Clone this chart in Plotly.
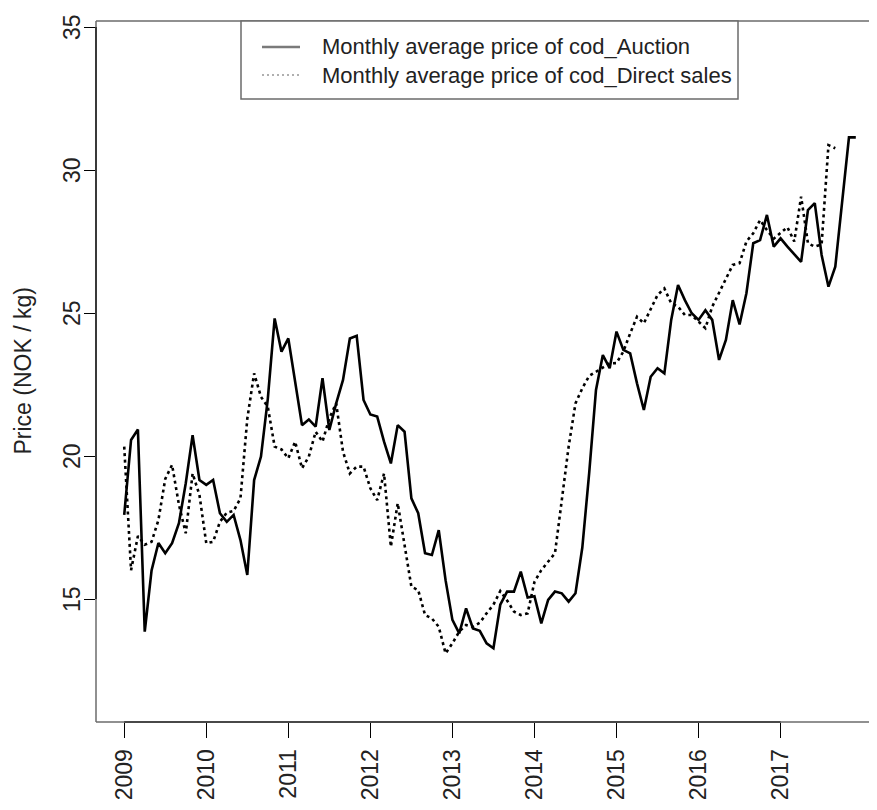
import plotly.graph_objects as go

# monthly average price of cod, NOK/kg, Jan 2009 onwards
auction = [
    17.94, 20.56, 20.93, 13.86, 16.0, 16.96, 16.6, 16.95, 17.65, 19.05, 20.73, 19.16,
    18.99, 19.16, 18.0, 17.7, 17.94, 17.06, 15.84, 19.16, 19.98, 22.0, 24.81, 23.65,
    24.11, 22.66, 21.08, 21.28, 21.03, 22.72, 20.91, 21.84, 22.66, 24.11, 24.2, 21.96,
    21.45, 21.38, 20.5, 19.74, 21.08, 20.85, 18.52, 18.0, 16.6, 16.54, 17.41, 15.66,
    14.27, 13.8, 14.67, 13.97, 13.89, 13.45, 13.28, 14.8, 15.26, 15.26, 15.96, 15.05,
    15.1, 14.15, 14.97, 15.26, 15.2, 14.91, 15.2, 16.8, 19.39, 22.31, 23.53, 23.07,
    24.35, 23.71, 23.59, 22.54, 21.61, 22.77, 23.07, 22.89, 24.76, 25.98, 25.45, 24.99,
    24.76, 25.1, 24.76, 23.36, 24.06, 25.45, 24.6, 25.69, 27.44, 27.55, 28.43, 27.32,
    27.61, 27.32, 27.06, 26.79, 28.6, 28.84, 27.03, 25.92, 26.62, 28.95, 31.14, 31.14,
]
direct = [
    20.33, 16.01, 17.2, 16.9, 17.0, 17.76, 19.2, 19.69, 18.3, 17.3, 19.39, 18.64,
    16.95, 17.0, 17.7, 18.02, 18.08, 18.52, 21.3, 22.89, 22.07, 21.72, 20.33, 20.23,
    19.92, 20.5, 19.57, 19.98, 20.85, 20.5, 21.32, 21.84, 20.15, 19.39, 19.63, 19.63,
    18.87, 18.46, 19.39, 16.83, 18.35, 16.83, 15.43, 15.31, 14.44, 14.32, 14.03, 13.1,
    13.45, 13.86, 14.09, 14.03, 14.17, 14.5, 14.8, 15.28, 14.95, 14.56, 14.44, 14.5,
    15.6, 16.01, 16.3, 16.6, 18.46, 20.33, 21.84, 22.37, 22.8, 22.95, 23.12, 23.24,
    23.25, 23.65, 24.29, 24.87, 24.64, 25.16, 25.63, 25.86, 25.34, 25.22, 24.93, 24.93,
    24.7, 24.47, 25.22, 25.69, 26.21, 26.68, 26.74, 27.5, 27.79, 28.25, 27.9, 27.6,
    27.8, 28.0, 27.5, 29.07, 27.44, 27.32, 27.4, 30.87, 30.76,
]
years = [2009, 2010, 2011, 2012, 2013, 2014, 2015, 2016, 2017]
price_ticks = [15, 20, 25, 30, 35]
names = ["Monthly average price of cod_Auction", "Monthly average price of cod_Direct sales"]

t_auction = [2009 + i / 12 for i in range(len(auction))]
t_direct = [2009 + i / 12 for i in range(len(direct))]

# the page body adds 8px around the figure, so size it to fill the window
OFF = 8
W, H = 877 - OFF, 810 - OFF
L, T, B = 96 - OFF, 21 - OFF, 88
pw, ph = W - L, H - T - B
FONT = "Liberation Sans"


def px(x):
    # screen pixel -> paper x
    return (x - OFF - L) / pw


def py(y):
    # screen pixel -> paper y
    return (H - B - (y - OFF)) / ph


fig = go.Figure()
fig.add_trace(go.Scatter(x=t_auction, y=auction, mode="lines", name=names[0],
                         line=dict(color="black", width=2.6), showlegend=False))
fig.add_trace(go.Scatter(x=t_direct, y=direct, mode="lines", name=names[1],
                         line=dict(color="black", width=2.6, dash="3px,3.5px"), showlegend=False))

box_col = "#6b6b6b"
shapes = [
    # plot box (right side falls outside the picture)
    dict(type="line", xref="paper", yref="paper", x0=0, x1=1.05, y0=1, y1=1, line=dict(color=box_col, width=1.5)),
    dict(type="line", xref="paper", yref="paper", x0=0, x1=1.05, y0=0, y1=0, line=dict(color=box_col, width=1.5)),
    dict(type="line", xref="paper", yref="paper", x0=0, x1=0, y0=0, y1=1, line=dict(color=box_col, width=1.5)),
    # axis lines between first and last tick
    dict(type="line", xref="x", yref="paper", x0=years[0], x1=years[-1], y0=0, y1=0, line=dict(color="black", width=1.2)),
    dict(type="line", xref="paper", yref="y", x0=0, x1=0, y0=price_ticks[0], y1=price_ticks[-1], line=dict(color="black", width=1.2)),
    # legend box
    dict(type="rect", xref="paper", yref="paper", x0=px(241), x1=px(738), y0=py(99), y1=py(21),
         line=dict(color=box_col, width=1.5), fillcolor="white"),
    dict(type="line", xref="paper", yref="paper", x0=px(262), x1=px(300), y0=py(47), y1=py(47),
         line=dict(color="#7a7a7a", width=2.5)),
    dict(type="line", xref="paper", yref="paper", x0=px(262), x1=px(300), y0=py(75), y1=py(75),
         line=dict(color="#b0b0b0", width=2, dash="2px,3px")),
]

annotations = [
    dict(text=names[0], xref="paper", yref="paper", x=px(320), y=py(47), xanchor="left", yanchor="middle",
         showarrow=False, font=dict(family=FONT, size=22, color="#222")),
    dict(text=names[1], xref="paper", yref="paper", x=px(320), y=py(75), xanchor="left", yanchor="middle",
         showarrow=False, font=dict(family=FONT, size=22, color="#222")),
    dict(text="Price (NOK / kg)", xref="paper", yref="paper", x=px(22), y=0.5, xanchor="center", yanchor="middle",
         textangle=-90, showarrow=False, font=dict(family=FONT, size=23, color="#222")),
]
# y tick labels, set close to the ticks as in the original
for v in price_ticks:
    annotations.append(dict(text=str(v), xref="paper", yref="y", x=px(72), y=v, xanchor="center", yanchor="middle",
                            textangle=-90, showarrow=False, font=dict(family=FONT, size=23, color="#222")))

fig.update_layout(
    width=W, height=H,
    margin=dict(l=L, r=0, t=T, b=B),
    plot_bgcolor="white", paper_bgcolor="white",
    showlegend=False,
    shapes=shapes, annotations=annotations,
    font=dict(family=FONT, size=23, color="#222"),
)
fig.update_xaxes(range=[2008.656, 2018.175], tickvals=years, ticktext=[str(y) for y in years],
                 tickangle=-90, ticks="outside", ticklen=15, tickcolor="black", tickwidth=1.2,
                 showgrid=False, zeroline=False, showline=False, ticklabelstandoff=2)
fig.update_yaxes(range=[10.70, 35.21], tickvals=price_ticks, showticklabels=False,
                 ticks="outside", ticklen=11, tickcolor="black", tickwidth=1.2,
                 showgrid=False, zeroline=False, showline=False)

fig.write_html("out.html")
